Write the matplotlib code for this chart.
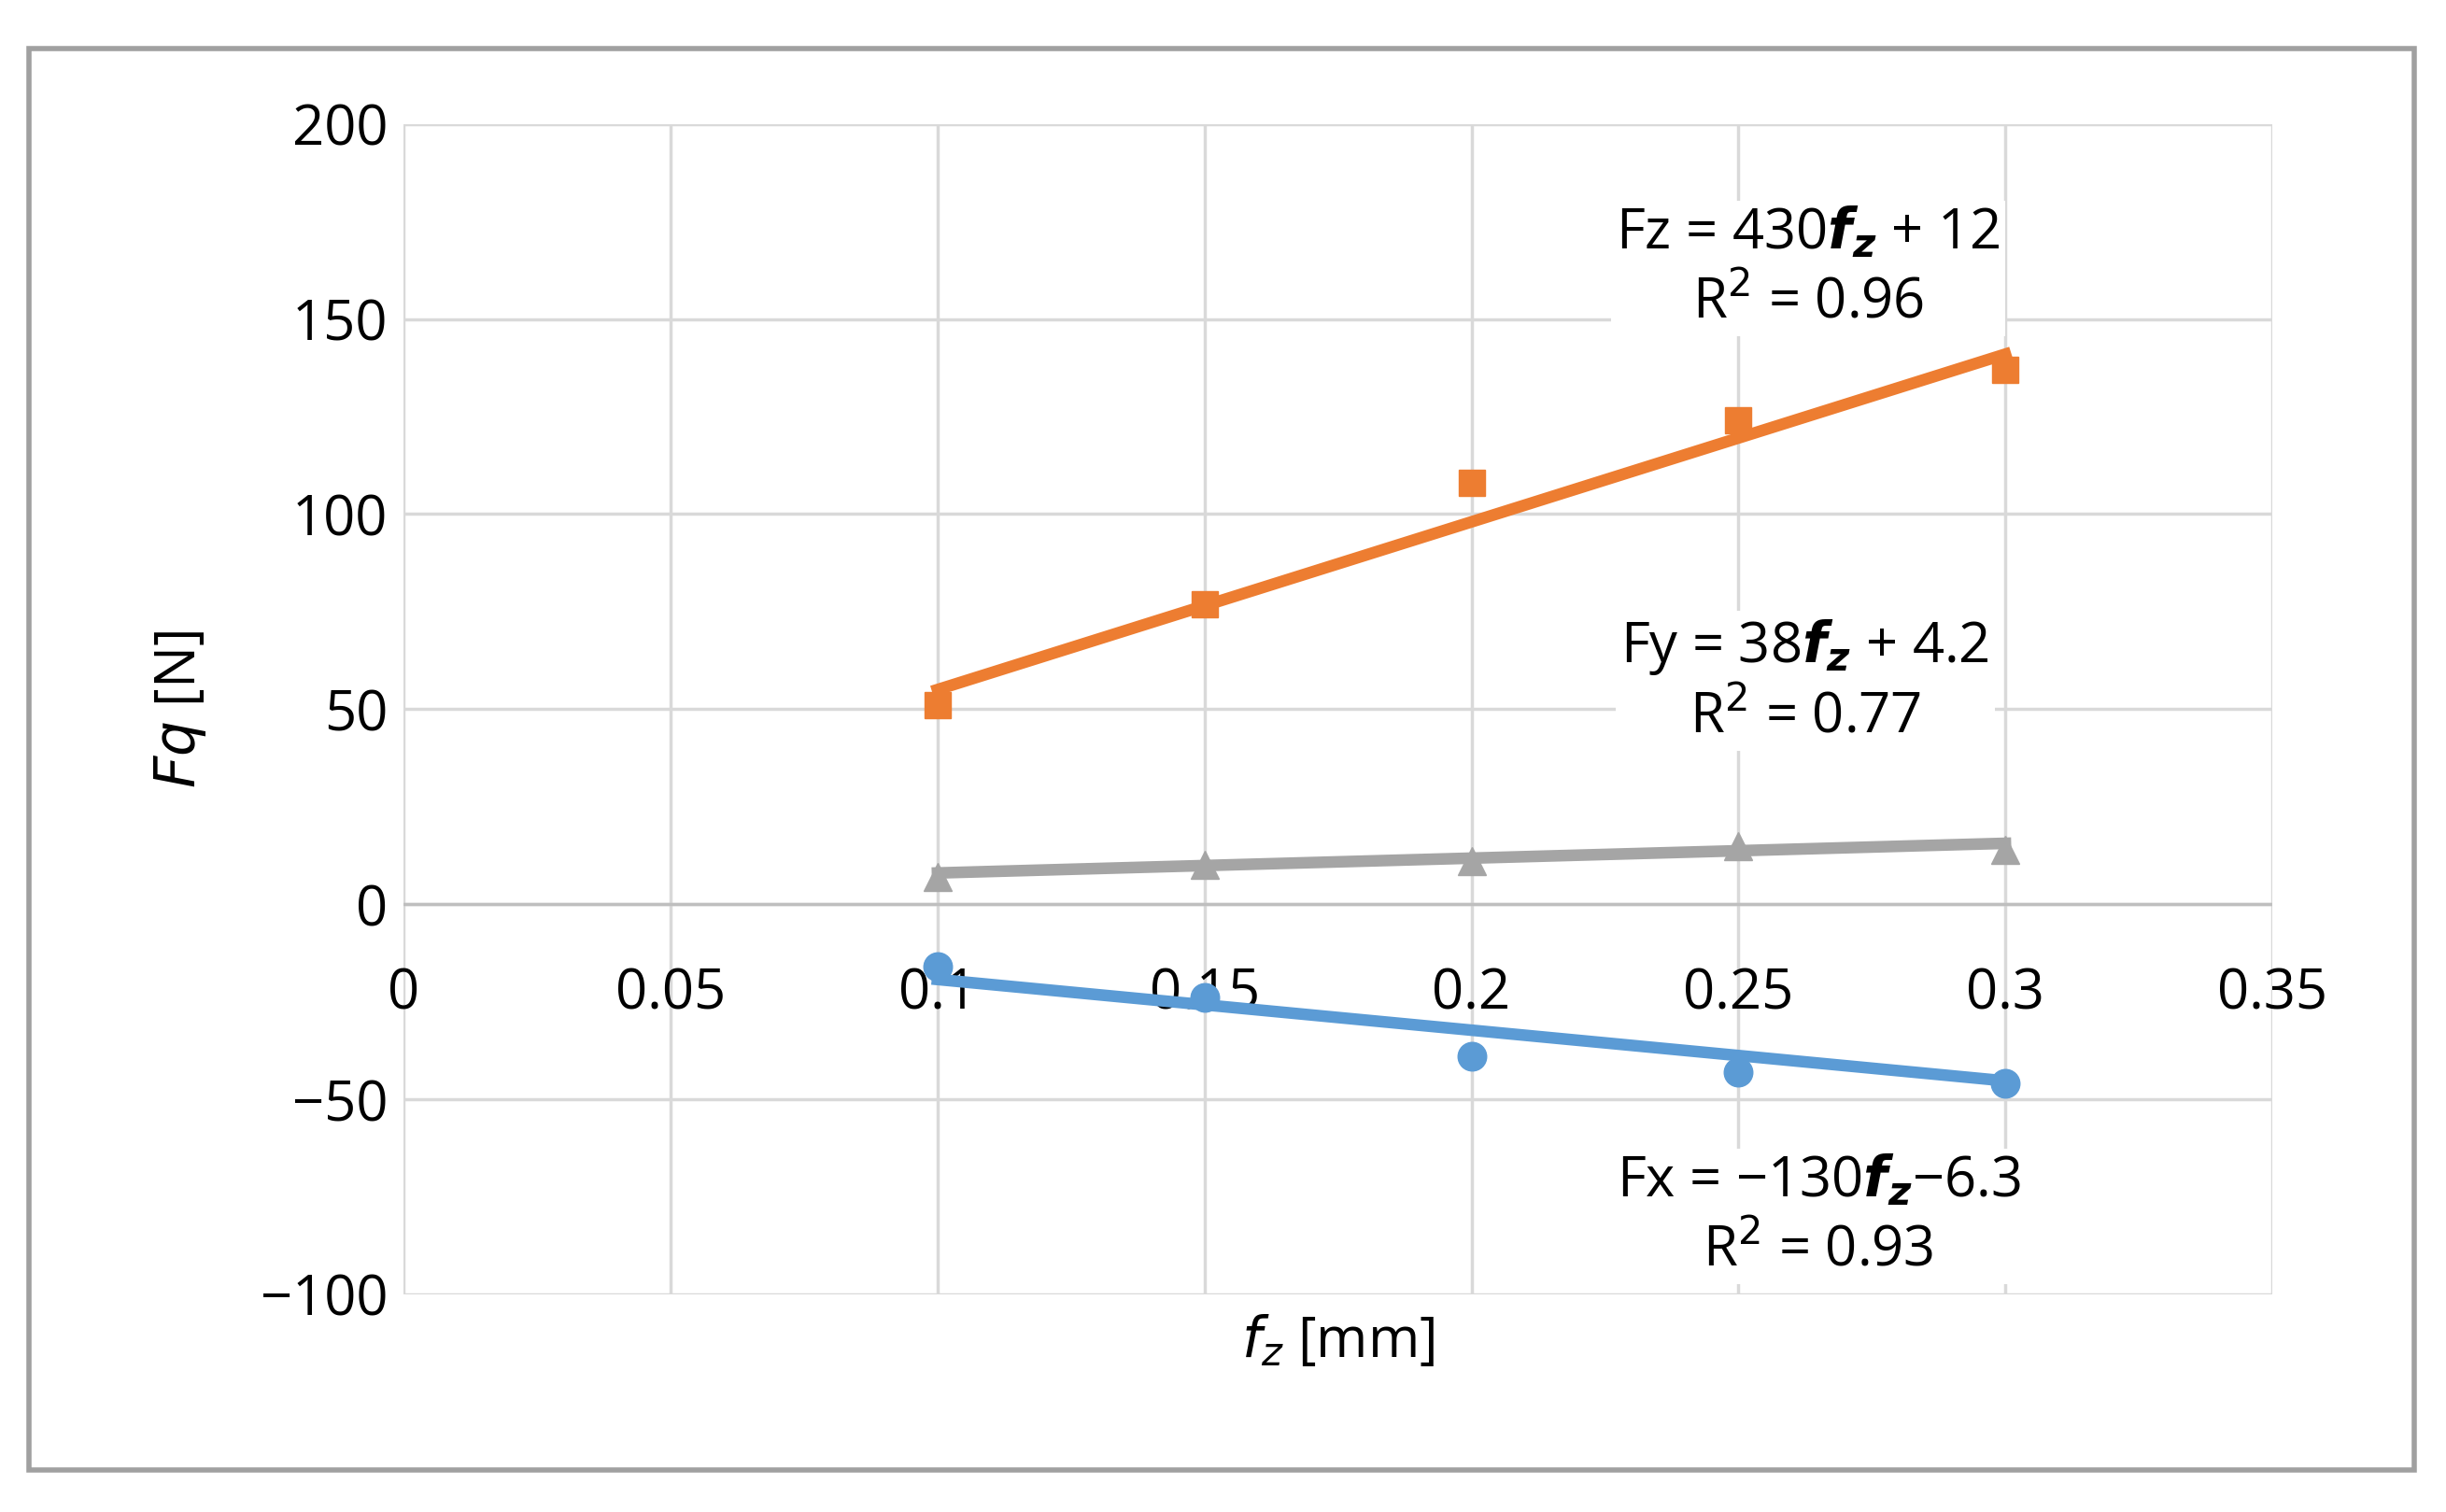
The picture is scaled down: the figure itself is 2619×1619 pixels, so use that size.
import matplotlib
matplotlib.use("Agg")
import matplotlib.pyplot as plt
import numpy as np
from matplotlib.patches import Rectangle

plt.rcParams['font.family'] = ['Open Sans', 'DejaVu Sans']
plt.rcParams['mathtext.fontset'] = 'dejavusans'

fz = [0.1, 0.15, 0.2, 0.25, 0.3]
Fz = [51, 77, 108, 124, 137]
Fy = [7, 10, 11, 15, 14]
Fx = [-16, -24, -39, -43, -46]
fits = {'Fz': (430, 12), 'Fy': (38, 4.2), 'Fx': (-130, -6.3)}
xticks = [0, 0.05, 0.1, 0.15, 0.2, 0.25, 0.3, 0.35]
yticks = [-100, -50, 0, 50, 100, 150, 200]

c_or, c_gr, c_bl = '#ED7D31', '#A5A5A5', '#5B9BD5'

fig = plt.figure(figsize=(26.19, 16.19), dpi=100)
fig.patches.append(Rectangle((0.012, 0.028), 0.975, 0.94, transform=fig.transFigure,
                             fill=False, edgecolor='#A0A0A0', linewidth=4))
ax = fig.add_axes([0.165, 0.144, 0.764, 0.774])
ax.set_xlim(0, 0.35)
ax.set_ylim(-100, 200)
ax.set_xticks(xticks)
ax.set_yticks(yticks)
ax.grid(True, color='#D9D9D9', linewidth=2.5)
for s in ax.spines.values():
    s.set_visible(False)
ax.axhline(0, color='#BFBFBF', linewidth=2.5)
ax.tick_params(length=0, labelsize=43, labelbottom=False, pad=12)
ax.set_yticklabels([str(t).replace('-', '\u2212') for t in yticks])
for t in xticks:
    ax.text(t, -23, f"{t:g}", ha='center', va='center', fontsize=43)

xs = np.array([0.1, 0.3])
ax.plot(fz, Fy, '^', color=c_gr, markersize=22, zorder=3)
ax.plot(xs, fits['Fy'][0]*xs + fits['Fy'][1], color=c_gr, lw=9, zorder=3)
ax.plot(fz, Fz, 's', color=c_or, markersize=20, zorder=3)
ax.plot(xs, fits['Fz'][0]*xs + fits['Fz'][1], color=c_or, lw=9, zorder=3)
ax.plot(fz, Fx, 'o', color=c_bl, markersize=22, zorder=3)
ax.plot(xs, fits['Fx'][0]*xs + fits['Fx'][1], color=c_bl, lw=9, zorder=3)

bbox = dict(facecolor='white', edgecolor='none', pad=4)
fzb = '$\\mathbfit{f}_\\mathbfit{z}$'
ax.text(0.263, 163, f'Fz = 430{fzb} + 12\nR$^2$ = 0.96', ha='center', va='center',
        fontsize=43, bbox=bbox, linespacing=1.3)
ax.text(0.2625, 57, f'Fy = 38{fzb} + 4.2\nR$^2$ = 0.77', ha='center', va='center',
        fontsize=43, bbox=bbox, linespacing=1.3)
ax.text(0.265, -80, f'Fx = \u2212130{fzb}\u22126.3\nR$^2$ = 0.93', ha='center', va='center',
        fontsize=43, bbox=bbox, linespacing=1.3)

ax.set_ylabel('$Fq$ [N]', fontsize=43, labelpad=40)
ax.set_xlabel('$f_z$ [mm]', fontsize=43, labelpad=15)

fig.savefig('out.png', dpi=100)
